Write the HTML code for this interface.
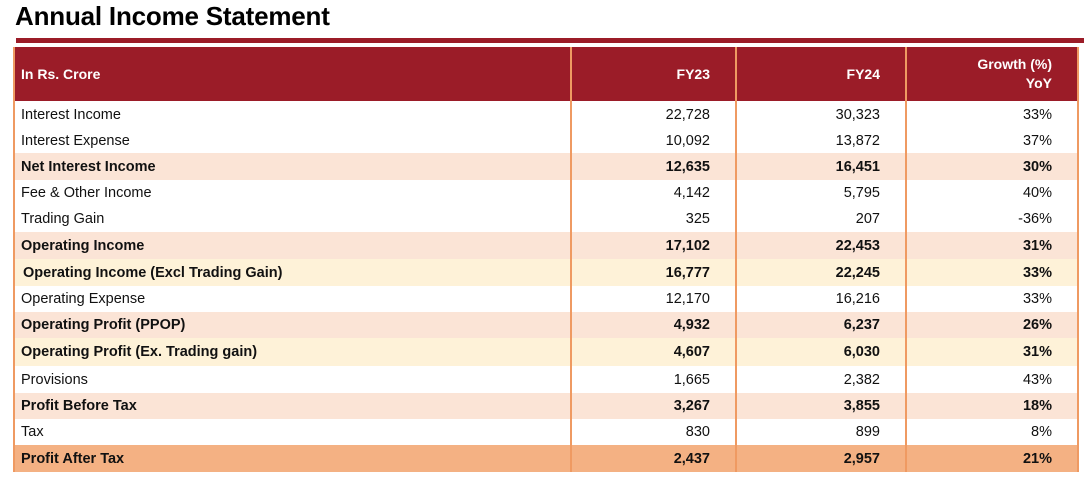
<!DOCTYPE html>
<html><head><meta charset="utf-8"><style>
body{margin:0;width:1084px;height:477px;background:#fff;font-family:"Liberation Sans",sans-serif;position:relative;overflow:hidden}
#title{position:absolute;left:15px;top:1px;font-size:26px;font-weight:bold;color:#000;letter-spacing:-0.2px}
#rule{position:absolute;left:16px;top:38px;width:1068px;height:5px;background:#9b1c28}
table{position:absolute;left:13px;top:47px;border-collapse:collapse;font-size:14.5px;color:#111;table-layout:fixed}
td,th{padding:0 25px 0 6px;text-align:right;border-left:2px solid #ef9a62;border-right:2px solid #ef9a62;white-space:nowrap}
td:first-child,th:first-child{text-align:left;padding-left:6px}
th{background:#9b1c28;color:#fff;height:54px;font-weight:bold;font-size:14px;border-color:#ef9a62}
.b td{font-weight:bold}
.p td{background:#fbe4d6}
.y td{background:#fef2d8}
.o td{background:#f4b183}
</style></head><body>
<div id="title">Annual Income Statement</div>
<div id="rule"></div>
<table>
<colgroup><col style="width:557px"><col style="width:165px"><col style="width:170px"><col style="width:172px"></colgroup>
<tr><th>In Rs. Crore</th><th>FY23</th><th>FY24</th><th style="line-height:19px">Growth (%)<br>YoY</th></tr>
<tr style="height:27px"><td>Interest Income</td><td>22,728</td><td>30,323</td><td>33%</td></tr>
<tr style="height:25px"><td>Interest Expense</td><td>10,092</td><td>13,872</td><td>37%</td></tr>
<tr style="height:27px" class="b p"><td>Net Interest Income</td><td>12,635</td><td>16,451</td><td>30%</td></tr>
<tr style="height:26px"><td>Fee &amp; Other Income</td><td>4,142</td><td>5,795</td><td>40%</td></tr>
<tr style="height:26px"><td>Trading Gain</td><td>325</td><td>207</td><td>-36%</td></tr>
<tr style="height:27px" class="b p"><td>Operating Income</td><td>17,102</td><td>22,453</td><td>31%</td></tr>
<tr style="height:27px" class="b y"><td style="padding-left:8px">Operating Income (Excl Trading Gain)</td><td>16,777</td><td>22,245</td><td>33%</td></tr>
<tr style="height:26px"><td>Operating Expense</td><td>12,170</td><td>16,216</td><td>33%</td></tr>
<tr style="height:26px" class="b p"><td>Operating Profit (PPOP)</td><td>4,932</td><td>6,237</td><td>26%</td></tr>
<tr style="height:28px" class="b y"><td>Operating Profit (Ex. Trading gain)</td><td>4,607</td><td>6,030</td><td>31%</td></tr>
<tr style="height:27px"><td>Provisions</td><td>1,665</td><td>2,382</td><td>43%</td></tr>
<tr style="height:26px" class="b p"><td>Profit Before Tax</td><td>3,267</td><td>3,855</td><td>18%</td></tr>
<tr style="height:26px"><td>Tax</td><td>830</td><td>899</td><td>8%</td></tr>
<tr style="height:27px" class="b o"><td>Profit After Tax</td><td>2,437</td><td>2,957</td><td>21%</td></tr>
</table>
</body></html>
